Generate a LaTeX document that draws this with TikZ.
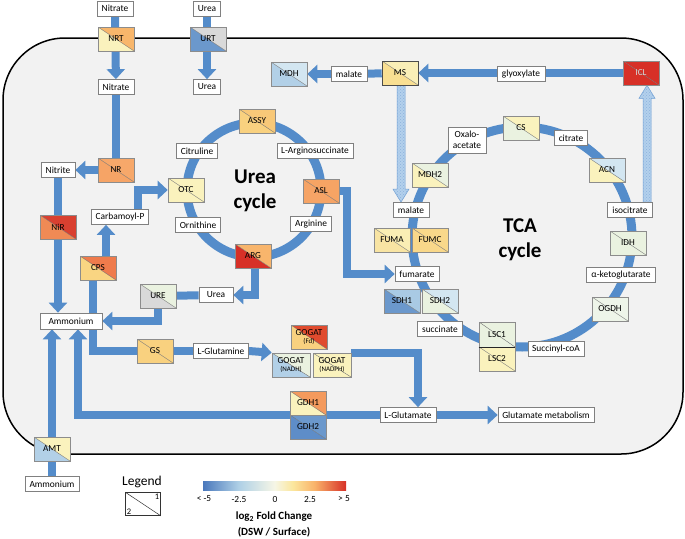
\documentclass[tikz,border=0pt]{standalone}
\usepackage{fontspec}
\setmainfont{Carlito}
\usetikzlibrary{arrows.meta,patterns,calc}
\pgfdeclarelayer{bg}\pgfdeclarelayer{arr}
\pgfsetlayers{bg,arr,main}
\definecolor{flowc}{HTML}{548CCA}
\definecolor{cellc}{HTML}{F2F2F2}
\definecolor{hatchc}{HTML}{B3D0EC}
\definecolor{hatchd}{HTML}{6F9FD4}
\definecolor{cRed}{HTML}{D73027}
\definecolor{cNiRu}{HTML}{D94030}
\definecolor{cNiRl}{HTML}{F08A55}
\definecolor{cFdU}{HTML}{E04B2E}
\definecolor{cCPSu}{HTML}{EF7B4C}
\definecolor{cCPSl}{HTML}{F9D582}
\definecolor{cNR}{HTML}{F7A86A}
\definecolor{cNRl}{HTML}{F6A466}
\definecolor{cASL}{HTML}{F6A464}
\definecolor{cNRTu}{HTML}{F8B66B}
\definecolor{cARGu}{HTML}{F8B56C}
\definecolor{cGDH1u}{HTML}{F49A5D}
\definecolor{cYO}{HTML}{F9D17F}
\definecolor{cASSYu}{HTML}{F8C878}
\definecolor{cFUMC}{HTML}{F9D88A}
\definecolor{cMSl}{HTML}{F9DF92}
\definecolor{cMSu}{HTML}{FAEFB7}
\definecolor{cFUMAl}{HTML}{F8E4A3}
\definecolor{cFUMAu}{HTML}{FAEEB4}
\definecolor{cPY}{HTML}{FAF2BD}
\definecolor{cPG}{HTML}{EAF2E0}
\definecolor{cPG2}{HTML}{EEF5E9}
\definecolor{cLB}{HTML}{D3E6F1}
\definecolor{cLMB}{HTML}{B2D0E7}
\definecolor{cSDH1u}{HTML}{A9CAE4}
\definecolor{cMB}{HTML}{6B98CC}
\definecolor{cMBd}{HTML}{5E8DC8}
\definecolor{cGr}{HTML}{D9D9D9}
\definecolor{cbA}{HTML}{4A78BC}
\definecolor{cbB}{HTML}{AFD0E6}
\definecolor{cbC}{HTML}{F6F6E6}
\definecolor{cbD}{HTML}{FBE69C}
\definecolor{cbE}{HTML}{F9B36A}
\definecolor{cbF}{HTML}{D73027}
\pgfdeclarehorizontalshading{fcbar}{100bp}{color(0bp)=(cbA); color(25bp)=(cbA); color(37.5bp)=(cbB); color(50bp)=(cbC); color(56.5bp)=(cbD); color(64bp)=(cbE); color(75bp)=(cbF); color(100bp)=(cbF)}
\newcommand\bxfont{\fontsize{9.4}{10}\selectfont}
\newcommand\enzfont{\fontsize{9.2}{9.2}\selectfont}
\newcommand\subfont{\fontsize{7}{7.5}\selectfont}
\tikzset{
  box/.style={draw=black!50, fill=white, line width=0.7pt, minimum height=15pt, inner xsep=3pt, inner ysep=0pt, font=\bxfont},
  enz/.style 2 args={draw=black!45, line width=0.6pt, minimum width=36pt, minimum height=24pt, inner sep=0pt, font=\enzfont, align=center,
    path picture={
      \fill[#2] (path picture bounding box.north west) -- (path picture bounding box.south west) -- (path picture bounding box.south east) -- cycle;
      \fill[#1] (path picture bounding box.north west) -- (path picture bounding box.north east) -- (path picture bounding box.south east) -- cycle;
      \draw[black!55, line width=0.4pt] (path picture bounding box.north west) -- (path picture bounding box.south east);
    }},
  flow/.style={draw=flowc, line width=8pt, -{Triangle[width=18pt,length=10pt]}},
  flowline/.style={draw=flowc, line width=8pt},
  ring/.style={draw=flowc, line width=9pt},
  hatch/.style={fill=hatchc, draw=hatchd, line width=0.5pt, postaction={pattern=crosshatch dots, pattern color=hatchd!80}},
  cyc/.style={font=\fontsize{21}{25}\selectfont\bfseries, align=center},
}
\begin{document}
\begin{tikzpicture}[x=1pt,y=-1pt]
\useasboundingbox (0,0) rectangle (685,538);
\begin{pgfonlayer}{bg}
\draw[line width=1.5pt, fill=cellc, rounded corners=62pt] (3,38) rectangle (683,454);
\end{pgfonlayer}

% ---- nodes: uptake
\node[box, minimum width=36] (nitO) at (115,8.5) {Nitrate};
\node[enz={cNRTu}{cPY}] (nrt) at (116,39) {NRT};
\node[box, minimum width=36] (nitI) at (116,87) {Nitrate};
\node[box, minimum width=27] (ureaO) at (207,8.5) {Urea};
\node[enz={cGr}{cMB}] (urt) at (208,39) {URT};
\node[box, minimum width=27] (ureaI) at (207,87) {Urea};
\node[enz={cNR}{cNRl}] (nr) at (116,170) {NR};
\node[box, minimum width=34] (nitrite) at (58,170) {Nitrite};
\node[enz={cNiRu}{cNiRl}] (nir) at (58,227) {NiR};
\node[box, minimum width=62, minimum height=16] (amm) at (71,321) {Ammonium};
\node[enz={cCPSu}{cCPSl}] (cps) at (98,268) {CPS};
\node[box, minimum width=57] (carb) at (120,217) {Carbamoyl-P};
% ---- urea cycle
\node[enz={cPY}{cPY}] (otc) at (186,190) {OTC};
\node[enz={cASSYu}{cYO}] (assy) at (257,121) {ASSY};
\node[box, minimum width=41] (citr) at (197,151) {Citruline};
\node[box, minimum width=76] (largs) at (315,151) {L-Arginosuccinate};
\node[box, minimum width=45] (orn) at (198,225) {Ornithine};
\node[box, minimum width=41] (argn) at (311,224) {Arginine};
\node[enz={cASL}{cNRl}] (asl) at (321,191) {ASL};
\node[enz={cARGu}{cRed}] (arg) at (253,256) {ARG};
\node[cyc] (ucyc) at (255,191) {Urea\\cycle};
\node[box, minimum width=34] (ureaB) at (216,295) {Urea};
\node[enz={cPG}{cGr}] (ure) at (158,296) {URE};
% ---- glutamine / glutamate
\node[enz={cYO}{cYO}] (gs) at (155,351) {GS};
\node[box, minimum width=55] (lgln) at (221,351) {L-Glutamine};
\node[enz={cFdU}{cYO}] (gogF) at (309,337) {GOGAT\\[-1pt]{\subfont (Fd)}};
\node[enz={cPG}{cLMB}, minimum width=38] (gogN) at (291,365) {GOGAT\\[-1pt]{\subfont (NADH)}};
\node[enz={cPY}{cPY}, minimum width=38] (gogP) at (332,365) {GOGAT\\[-1pt]{\subfont (NADPH)}};
\node[enz={cGDH1u}{cPY}] (gdh1) at (308,403) {GDH1};
\node[enz={cMB}{cMBd}] (gdh2) at (308,427) {GDH2};
\node[box, minimum width=56] (lglu) at (408,415) {L-Glutamate};
\node[box, minimum width=96] (glumet) at (546,415) {Glutamate metabolism};
\node[enz={cPY}{cLMB}] (amt) at (52,449) {AMT};
\node[box, minimum width=54] (ammO) at (52,484) {Ammonium};
% ---- TCA cycle
\node[enz={cPY}{cPG}] (cs) at (521,128) {CS};
\node[box, minimum width=38, minimum height=26, align=center, font=\fontsize{9.4}{10.5}\selectfont] (oxa) at (467,140) {Oxalo-\\acetate};
\node[box, minimum width=33] (citrate) at (571,138) {citrate};
\node[enz={cLB}{cPY}] (acn) at (607,170) {ACN};
\node[box, minimum width=45] (isocit) at (630,210) {isocitrate};
\node[enz={cPG}{cPG}] (idh) at (628,243) {IDH};
\node[box, minimum width=69] (akg) at (621,275) {α-ketoglutarate};
\node[enz={cPG2}{cPG2}] (ogdh) at (610,309) {OGDH};
\node[box, minimum width=56] (succoa) at (556,349) {Succinyl-coA};
\node[enz={cPG}{cPG}, minimum height=25] (lsc1) at (497,334.5) {LSC1};
\node[enz={cPY}{cPY}] (lsc2) at (497,359) {LSC2};
\node[box, minimum width=45] (succ) at (440,329) {succinate};
\node[enz={cSDH1u}{cMB}] (sdh1) at (402,301) {SDH1};
\node[enz={cLB}{cPG}] (sdh2) at (440,301) {SDH2};
\node[box, minimum width=44] (fum) at (417,274) {fumarate};
\node[enz={cFUMAu}{cFUMAl}] (fuma) at (392,240) {FUMA};
\node[enz={cFUMC}{cFUMC}] (fumc) at (430,240) {FUMC};
\node[box, minimum width=36] (malTCA) at (411,210) {malate};
\node[enz={cPG}{cPY}] (mdh2) at (430,175) {MDH2};
\node[cyc] (tcyc) at (520,240) {TCA\\cycle};
% ---- glyoxylate shunt
\node[enz={cRed}{cRed}, text=white!85!black] (icl) at (641,73) {ICL};
\node[box, minimum width=48] (glyox) at (521,74) {glyoxylate};
\node[enz={cMSu}{cMSl}, draw=black!70] (ms) at (400,73) {MS};
\node[box, minimum width=36] (malT) at (349,74) {malate};
\node[enz={cLB}{cLMB}] (mdh) at (289,74) {MDH};
\draw[black!85, line width=1.5pt] (lsc1.south west) -- (lsc1.south east);

% ---- legend
\node[font=\fontsize{13.5}{15}\selectfont] (legt) at (142,482) {Legend};
\node[draw=black!80, line width=0.7pt, minimum width=35, minimum height=23] (legb) at (143,504) {};
\draw[black!80, line width=0.5pt] (legb.north west) -- (legb.south east);
\node[anchor=north east, inner sep=1.5pt, font=\fontsize{8.5}{9}\selectfont] at (legb.north east) {1};
\node[anchor=south west, inner sep=1.5pt, font=\fontsize{8.5}{9}\selectfont] at (legb.south west) {2};
\shade[shading=fcbar] (203,481) rectangle (346,490);
\node[font=\bxfont] at (204,499) {< -5};
\node[font=\bxfont] at (239,499) {-2.5};
\node[font=\bxfont] at (275,499) {0};
\node[font=\bxfont] at (310,499) {2.5};
\node[font=\bxfont] at (344,499) {> 5};
\node[font=\fontsize{11}{12}\selectfont\bfseries] at (274,517) {log\textsubscript{2} Fold Change};
\node[font=\fontsize{11}{12}\selectfont\bfseries] at (274,532) {(DSW / Surface)};

% ---- connectors
\coordinate (xcps) at (93,0);
\coordinate (xcpsup) at (106,0);
\coordinate (xcarb) at (138,0);
\coordinate (xasl) at (347,0);
\coordinate (xglu) at (418,0);
\coordinate (xloop) at (78,0);
\begin{pgfonlayer}{arr}
\draw[ring] (254,190) circle[radius=67pt];
\draw[ring] (522,237) circle[radius=110pt];
\draw[flow] (nitO) -- (nitI);
\draw[flow] (ureaO) -- (ureaI);
\draw[flowline] (nitI) -- (nr);
\draw[flow] (nr) -- (nitrite);
\draw[flow] (nitrite) -- (nitrite |- amm.north);
\draw[flow] (ammO) -- (ammO |- amm.south);
\draw[flow] (lglu.west) -| (xloop |- amm.south);
\draw[flowline] (gs.west) -| (xcps |- cps.south);
\draw[flow] (xcpsup |- cps.north) -- (xcpsup |- carb.south);
\draw[flow] (xcarb |- carb.north) |- (otc.west);
\draw[flowline] (gs) -- (lgln);
\draw[flow] (lgln.east) -- (gogN.north west);
\draw[flow] (gogP.north east) -| (xglu |- lglu.north);
\draw[flow] (lglu) -- (glumet);
\draw[flowline] (ureaB) -- (ure);
\draw[flow] (ure.south) |- (amm.east);
\draw[flow] ([xshift=2pt]arg.south) |- (ureaB.east);
\draw[flow] (asl.east) -| (xasl |- fum.west) -- (fum.west);
\draw[flow] (icl) -- (ms);
\draw[flowline] (ms) -- (malT);
\draw[flow] (malT) -- (mdh);
\path[hatch] let \p1=(ms.south), \p2=(malTCA.north) in
  (\x1-3pt,\y1) -- (\x1-3pt,\y2+13pt) -- (\x1-7pt,\y2+13pt) -- (\x1+1pt,\y2) -- (\x1+9pt,\y2+13pt) -- (\x1+5pt,\y2+13pt) -- (\x1+5pt,\y1) -- cycle;
\path[hatch] let \p1=(isocit.north), \p2=(icl.south) in
  (\x1+13pt,\y1) -- (\x1+13pt,\y2-13pt) -- (\x1+9pt,\y2-13pt) -- (\x1+17pt,\y2) -- (\x1+25pt,\y2-13pt) -- (\x1+21pt,\y2-13pt) -- (\x1+21pt,\y1) -- cycle;
\end{pgfonlayer}
\end{tikzpicture}
\end{document}
